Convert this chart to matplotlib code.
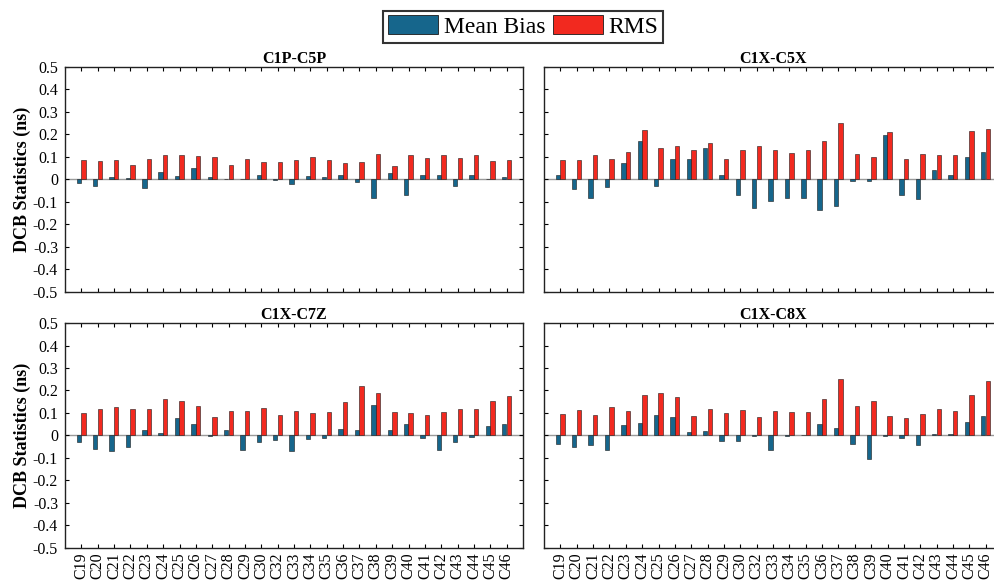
import numpy as np
import matplotlib
matplotlib.use("Agg")
import matplotlib.pyplot as plt
from matplotlib.patches import Patch

plt.rcParams['font.family'] = ['Liberation Serif', 'DejaVu Serif']

prns = ['C19', 'C20', 'C21', 'C22', 'C23', 'C24', 'C25', 'C26', 'C27', 'C28',
        'C29', 'C30', 'C32', 'C33', 'C34', 'C35', 'C36', 'C37', 'C38', 'C39',
        'C40', 'C41', 'C42', 'C43', 'C44', 'C45', 'C46']

titles = ['C1P-C5P', 'C1X-C5X', 'C1X-C7Z', 'C1X-C8X']

# mean bias (ns)
bias_c1p_c5p = [-0.016, -0.031, 0.012, 0.006, -0.040, 0.034, 0.015, 0.051, 0.013, 0.001,
                0.000, 0.018, -0.001, -0.021, 0.016, 0.013, 0.021, -0.012, -0.084, 0.031,
                -0.069, 0.021, 0.019, -0.031, 0.021, 0.004, 0.010]
bias_c1x_c5x = [0.022, -0.044, -0.084, -0.034, 0.074, 0.173, -0.030, 0.089, 0.092, 0.138,
                0.018, -0.067, -0.127, -0.096, -0.083, -0.083, -0.136, -0.119, -0.007, -0.006,
                0.196, -0.070, -0.087, 0.040, 0.022, 0.099, 0.124]
bias_c1x_c7z = [-0.030, -0.058, -0.069, -0.052, 0.025, 0.013, 0.078, 0.052, -0.001, 0.025,
                -0.064, -0.031, -0.021, -0.069, -0.016, -0.013, 0.028, 0.025, 0.137, 0.024,
                0.049, -0.010, -0.063, -0.031, -0.007, 0.040, 0.051]
bias_c1x_c8x = [-0.040, -0.053, -0.044, -0.065, 0.047, 0.055, 0.092, 0.083, 0.016, 0.022,
                -0.025, -0.024, -0.004, -0.065, -0.004, 0.000, 0.049, 0.034, -0.036, -0.104,
                -0.003, -0.009, -0.043, 0.006, 0.007, 0.058, 0.086]

# RMS (ns)
rms_c1p_c5p = [0.088, 0.084, 0.085, 0.066, 0.093, 0.110, 0.107, 0.103, 0.098, 0.066,
               0.093, 0.076, 0.078, 0.087, 0.098, 0.088, 0.073, 0.078, 0.112, 0.060,
               0.110, 0.097, 0.107, 0.094, 0.109, 0.081, 0.085]
rms_c1x_c5x = [0.086, 0.086, 0.111, 0.090, 0.123, 0.221, 0.138, 0.151, 0.132, 0.161,
               0.092, 0.129, 0.147, 0.129, 0.116, 0.132, 0.173, 0.252, 0.114, 0.102,
               0.210, 0.092, 0.114, 0.108, 0.108, 0.216, 0.225]
rms_c1x_c7z = [0.101, 0.119, 0.127, 0.116, 0.116, 0.160, 0.155, 0.130, 0.084, 0.107,
               0.107, 0.122, 0.093, 0.110, 0.100, 0.103, 0.149, 0.218, 0.188, 0.104,
               0.101, 0.090, 0.106, 0.119, 0.118, 0.155, 0.175]
rms_c1x_c8x = [0.096, 0.113, 0.090, 0.127, 0.110, 0.178, 0.187, 0.173, 0.086, 0.116,
               0.098, 0.114, 0.080, 0.110, 0.105, 0.105, 0.161, 0.253, 0.130, 0.154,
               0.087, 0.079, 0.096, 0.116, 0.111, 0.181, 0.241]

bias_all = [bias_c1p_c5p, bias_c1x_c5x, bias_c1x_c7z, bias_c1x_c8x]
rms_all = [rms_c1p_c5p, rms_c1x_c5x, rms_c1x_c7z, rms_c1x_c8x]

blue = '#16668C'
red = '#F2291F'

fig = plt.figure(figsize=(9.94, 5.8), dpi=100)

# axes boxes in figure fraction; right column runs past the figure edge like the original
lefts = [0.0654, 0.5473, 0.0654, 0.5473]
bottoms = [0.4966, 0.4966, 0.0552, 0.0552]
w, h = 0.4608, 0.3879

x = np.arange(1, len(prns) + 1)
bw = 0.27

for i in range(4):
    ax = fig.add_axes([lefts[i], bottoms[i], w, h])
    ax.axhline(0, color='#9a9a9a', lw=1.0, zorder=1)
    ax.bar(x - 0.15, bias_all[i], bw, color=blue, edgecolor='#1a1a1a', lw=0.4, zorder=2)
    ax.bar(x + 0.13, rms_all[i], bw, color=red, edgecolor='#1a1a1a', lw=0.4, zorder=2)
    ax.set_xlim(0, len(prns) + 1)
    ax.set_ylim(-0.5, 0.5)
    ax.set_yticks(np.round(np.arange(-0.5, 0.51, 0.1), 1))
    ax.set_xticks(x)
    ax.tick_params(direction='in', top=True, right=True, length=3, width=0.8,
                   labelsize=11.5)
    ax.tick_params(axis='y', pad=5)
    ax.tick_params(axis='x', pad=3)
    for s in ax.spines.values():
        s.set_linewidth(1.0)
        s.set_color('#222222')
    if i % 2 == 0:
        ax.set_yticklabels(['-0.5', '-0.4', '-0.3', '-0.2', '-0.1', '0',
                            '0.1', '0.2', '0.3', '0.4', '0.5'])
        ax.set_ylabel('DCB Statistics (ns)', fontsize=13, fontweight='bold', labelpad=1)
    else:
        ax.set_yticklabels([])
    if i >= 2:
        ax.set_xticklabels(prns, rotation=90)
    else:
        ax.set_xticklabels([])
    ax.set_title(titles[i], fontsize=11.5, fontweight='bold', pad=3)

handles = [Patch(facecolor=blue, edgecolor='#1a1a1a', lw=0.6, label='Mean Bias'),
           Patch(facecolor=red, edgecolor='#1a1a1a', lw=0.6, label='RMS')]
leg = fig.legend(handles=handles, loc='upper center', bbox_to_anchor=(0.5265, 0.99),
                 ncol=2, fontsize=17, frameon=True, fancybox=False, edgecolor='black',
                 handlelength=2.1, handleheight=0.85, handletextpad=0.25, columnspacing=0.35,
                 borderpad=0.2, borderaxespad=0.2)
leg.get_frame().set_linewidth(1.5)

fig.savefig('out.png', dpi=100)
